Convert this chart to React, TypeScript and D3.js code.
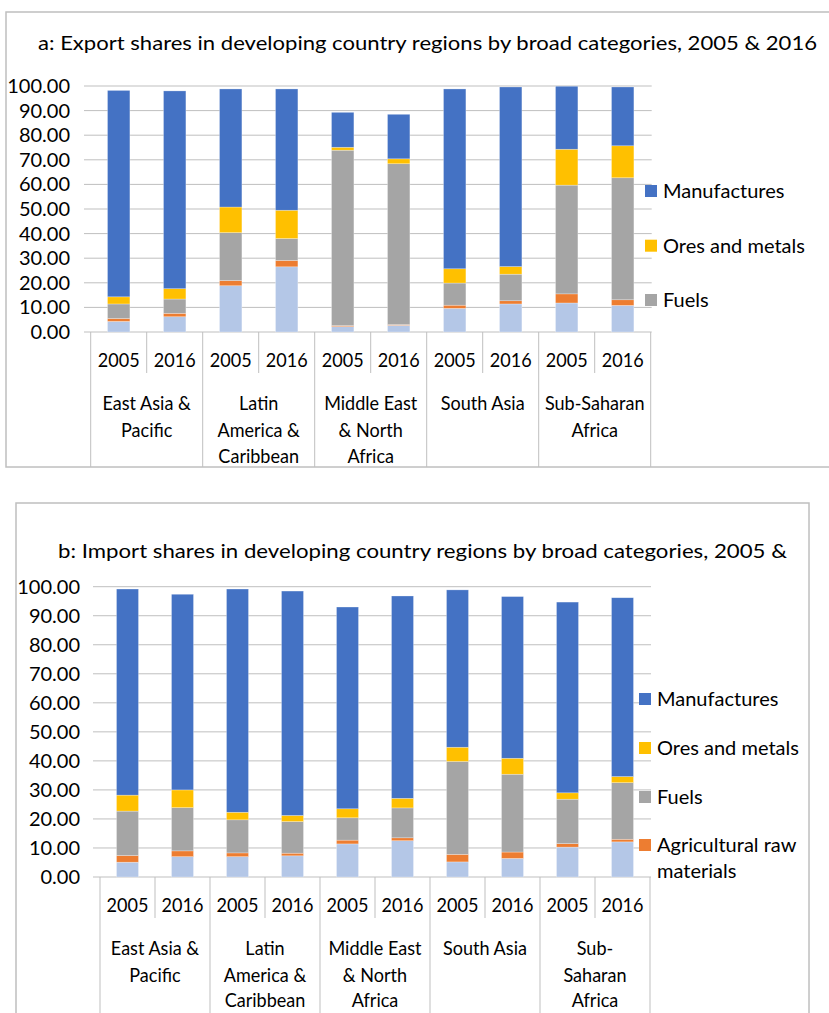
import React from "react";
import * as d3 from "d3";

const seriesNames = ["Food", "Agricultural raw materials", "Fuels", "Ores and metals", "Manufactures"];
const seriesColors = ["#B4C7E7", "#ED7D31", "#A5A5A5", "#FFC000", "#4472C4"];
const years = ["2005", "2016"];
const regionsA = [["East Asia &", "Pacific"], ["Latin", "America &", "Caribbean"], ["Middle East", "& North", "Africa"], ["South Asia"], ["Sub-Saharan", "Africa"]];
const regionsB = [["East Asia &", "Pacific"], ["Latin", "America &", "Caribbean"], ["Middle East", "& North", "Africa"], ["South Asia"], ["Sub-", "Saharan", "Africa"]];
const yTicks = [0, 10, 20, 30, 40, 50, 60, 70, 80, 90, 100];

// Export shares (a): bars in order EAP05, EAP16, LAC05, LAC16, MENA05, MENA16, SA05, SA16, SSA05, SSA16
const exportFood = [4.3, 6.2, 18.8, 26.5, 2.2, 2.7, 9.6, 11.4, 11.8, 10.8];
const exportAgri = [1.2, 1.4, 2.1, 2.6, 0.4, 0.3, 1.3, 1.3, 3.7, 2.3];
const exportFuels = [5.9, 5.8, 19.5, 8.9, 71.3, 65.4, 9.0, 10.8, 44.2, 49.6];
const exportOres = [2.9, 4.2, 10.4, 11.5, 1.2, 2.0, 5.8, 3.1, 14.6, 13.0];
const exportManuf = [83.9, 80.4, 48.0, 49.3, 14.2, 18.1, 73.1, 73.0, 25.6, 23.9];

// Import shares (b)
const importFood = [5.1, 7.0, 7.0, 7.3, 11.4, 12.5, 5.2, 6.4, 10.3, 12.1];
const importAgri = [2.3, 2.0, 1.3, 0.9, 1.3, 1.0, 2.6, 2.2, 1.2, 0.9];
const importFuels = [15.3, 14.9, 11.4, 10.9, 7.7, 10.3, 32.0, 26.8, 15.3, 19.5];
const importOres = [5.5, 6.1, 2.6, 2.1, 3.1, 3.3, 4.9, 5.5, 2.2, 2.1];
const importManuf = [71.0, 67.4, 76.9, 77.3, 69.5, 69.7, 54.2, 55.7, 65.7, 61.6];

const titleA = "a: Export shares in developing country regions by broad categories, 2005 & 2016";
const titleB = "b: Import shares in developing country regions by broad categories, 2005 &";

type Cfg = {
  title: string; titleX: number; titleY: number; titleLen: number;
  box: [number, number, number, number];
  x0: number; x1: number; yTop: number; yBot: number;
  gridX0: number; tickRight: number;
  yearY: number; yearSepBottom: number; regionY: number[]; regionSepBottom: number;
  regions: string[][];
  series: number[][];
  legend: { show: number[]; x: number; ys: number[] };
};

const sans = "Lato, 'Open Sans', sans-serif";

function Chart({ c }: { c: Cfg }) {
  const cats = d3.range(10).map(String);
  const x = d3.scaleBand().domain(cats).range([c.x0, c.x1]).padding(0);
  const y = d3.scaleLinear().domain([0, 100]).range([c.yBot, c.yTop]);
  const rows = cats.map((_, i) => {
    const r: any = {};
    seriesNames.forEach((s, k) => (r[s] = c.series[k][i]));
    return r;
  });
  const stacked = d3.stack().keys(seriesNames)(rows);
  const bw = x.bandwidth() * 0.4;
  const grid = "#BFBFBF";
  const condensed = 0.95;
  return (
    <g>
      <rect x={c.box[0]} y={c.box[1]} width={c.box[2]} height={c.box[3]} fill="white" stroke="#BFBFBF" strokeWidth={1.5} />
      <text x={c.titleX} y={c.titleY} fontFamily={sans} fontSize={20} fill="#000" textLength={c.titleLen} lengthAdjust="spacingAndGlyphs">{c.title}</text>
      {yTicks.map((t) => (
        <g key={t}>
          <line x1={c.gridX0} x2={c.x1 + 1} y1={y(t)} y2={y(t)} stroke={grid} strokeWidth={1} />
          <text x={c.tickRight} y={y(t)} dy="0.35em" textAnchor="end" fontFamily={sans} fontSize={20} fill="#000">{t.toFixed(2)}</text>
        </g>
      ))}
      {stacked.map((s, k) => (
        <g key={k} fill={seriesColors[k]}>
          {s.map((d, i) => (
            <rect key={i} x={(x(cats[i]) as number) + (x.bandwidth() - bw) / 2} width={bw}
              y={y(d[1])} height={Math.max(0, y(d[0]) - y(d[1]))} stroke="#ffffff" strokeOpacity={0.45} strokeWidth={0.6} />
          ))}
        </g>
      ))}
      {/* category separators */}
      {d3.range(11).map((i) => {
        const xx = c.x0 + i * x.bandwidth();
        const bottom = i % 2 === 0 ? c.regionSepBottom : c.yearSepBottom;
        return <line key={i} x1={xx} x2={xx} y1={c.yBot} y2={bottom} stroke={grid} strokeWidth={1} />;
      })}
      {cats.map((cat, i) => (
        <text key={cat} transform={`translate(${(x(cat) as number) + x.bandwidth() / 2},${c.yearY}) scale(${condensed},1)`}
          dy="0.35em" textAnchor="middle" fontFamily={sans} fontSize={19} fill="#000">{years[i % 2]}</text>
      ))}
      {c.regions.map((lines, r) => (
        <g key={r}>
          {lines.map((ln, j) => (
            <text key={j} transform={`translate(${c.x0 + (r * 2 + 1) * x.bandwidth()},${c.regionY[j]}) scale(${condensed},1)`}
              dy="0.35em" textAnchor="middle" fontFamily={sans} fontSize={19} fill="#000">{ln}</text>
          ))}
        </g>
      ))}
      {c.legend.show.map((k, j) => {
        const name = seriesNames[k];
        const parts = name === "Agricultural raw materials" ? ["Agricultural raw", "materials"] : [name];
        return (
          <g key={k}>
            <rect x={c.legend.x} y={c.legend.ys[j] - 6} width={12} height={12} fill={seriesColors[k]} />
            {parts.map((p, q) => (
              <text key={q} x={c.legend.x + 18} y={c.legend.ys[j] + q * 26} dy="0.35em" fontFamily={sans} fontSize={20} fill="#000">{p}</text>
            ))}
          </g>
        );
      })}
    </g>
  );
}

export default function App() {
  const cfgA: Cfg = {
    title: titleA, titleX: 38, titleY: 50, titleLen: 779,
    box: [6, 12, 840, 455],
    x0: 90.7, x1: 650.7, yTop: 86, yBot: 332,
    gridX0: 84, tickRight: 70,
    yearY: 360, yearSepBottom: 373, regionY: [403, 430, 456.5], regionSepBottom: 467,
    regions: regionsA,
    series: [exportFood, exportAgri, exportFuels, exportOres, exportManuf],
    legend: { show: [4, 3, 2], x: 645, ys: [191, 245.7, 300] },
  };
  const cfgB: Cfg = {
    title: titleB, titleX: 58, titleY: 558, titleLen: 729,
    box: [16, 503, 793, 540],
    x0: 100, x1: 650, yTop: 586.7, yBot: 877,
    gridX0: 93, tickRight: 80,
    yearY: 905, yearSepBottom: 918, regionY: [948, 975, 1000.5], regionSepBottom: 1020,
    regions: regionsB,
    series: [importFood, importAgri, importFuels, importOres, importManuf],
    legend: { show: [4, 3, 2, 1], x: 639, ys: [699, 748, 797, 845] },
  };
  return (
    <svg width={829} height={1013} style={{ position: "absolute", left: 0, top: 0, background: "white" }}>
      <rect width={829} height={1013} fill="white" />
      <Chart c={cfgA} />
      <Chart c={cfgB} />
    </svg>
  );
}
